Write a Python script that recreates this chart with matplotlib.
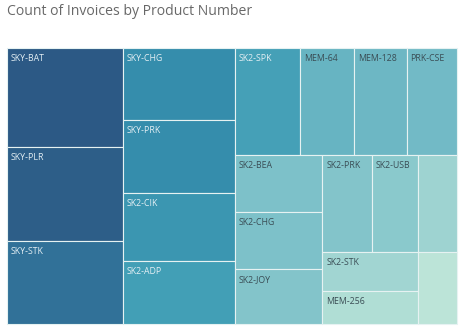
import matplotlib.pyplot as plt
from matplotlib.colors import LinearSegmentedColormap, Normalize
from matplotlib.patches import Rectangle

# invoice counts per product
products = ['SKY-BAT', 'SKY-PLR', 'SKY-STK', 'SKY-CHG', 'SKY-PRK', 'SK2-CIK', 'SK2-ADP',
            'SK2-SPK', 'MEM-64', 'MEM-128', 'PRK-CSE', 'SK2-BEA', 'SK2-CHG', 'SK2-JOY',
            'SK2-PRK', 'SK2-USB', '', 'SK2-STK', 'MEM-256', '']
counts = [115, 109, 96, 81, 81, 76, 71, 70, 58, 56, 54, 50, 50, 48, 48, 45, 38, 37, 32, 28]

# nesting of the treemap (indices into products), split direction alternates
layout = [[0, 1, 2], [3, 4, 5, 6],
          [[7, 8, 9, 10], [[11, 12, 13], [[14, 15, 16], [[17, 18], 19]]]]]

# Tableau blue-teal sequential palette
blue_teal = ['#bce4d8', '#a1d5d2', '#89c8cc', '#72bac6', '#59acbe',
             '#419eb6', '#358ead', '#347ea1', '#316f96', '#2d608a', '#2c5985']
cmap = LinearSegmentedColormap.from_list('blue_teal', blue_teal)
norm = Normalize(min(counts), max(counts))


def total(node):
    if isinstance(node, int):
        return counts[node]
    return sum(total(c) for c in node)


rects = {}


def place(node, x, y, w, h, horiz):
    if isinstance(node, int):
        rects[node] = (x, y, w, h)
        return
    s = total(node)
    for c in node:
        f = total(c) / s
        if horiz:
            place(c, x, y, w * f, h, False)
            x += w * f
        else:
            place(c, x, y, w, h * f, True)
            y += h * f


W, H = 476, 331
fig = plt.figure(figsize=(W / 100, H / 100), dpi=100)
ax = fig.add_axes([0, 0, 1, 1])
ax.set_xlim(0, W)
ax.set_ylim(H, 0)
ax.axis('off')

# plot area in pixels
place(layout, 7, 48, 450, 276, True)

for i, (x, y, w, h) in rects.items():
    ax.add_patch(Rectangle((x, y), w, h, facecolor=cmap(norm(counts[i])),
                           edgecolor='#e6f2f2', linewidth=0.8))
    txt_color = '#e4eff4' if norm(counts[i]) > 0.4 else '#3a4d55'
    ax.text(x + 4, y + 6, products[i], ha='left', va='top', fontsize=6.3,
            color=txt_color, family='Open Sans')

ax.text(7, 4, 'Count of Invoices by Product Number', ha='left', va='top',
        fontsize=10.1, color='#686868', family='Open Sans')

fig.savefig('out.png', dpi=100)
